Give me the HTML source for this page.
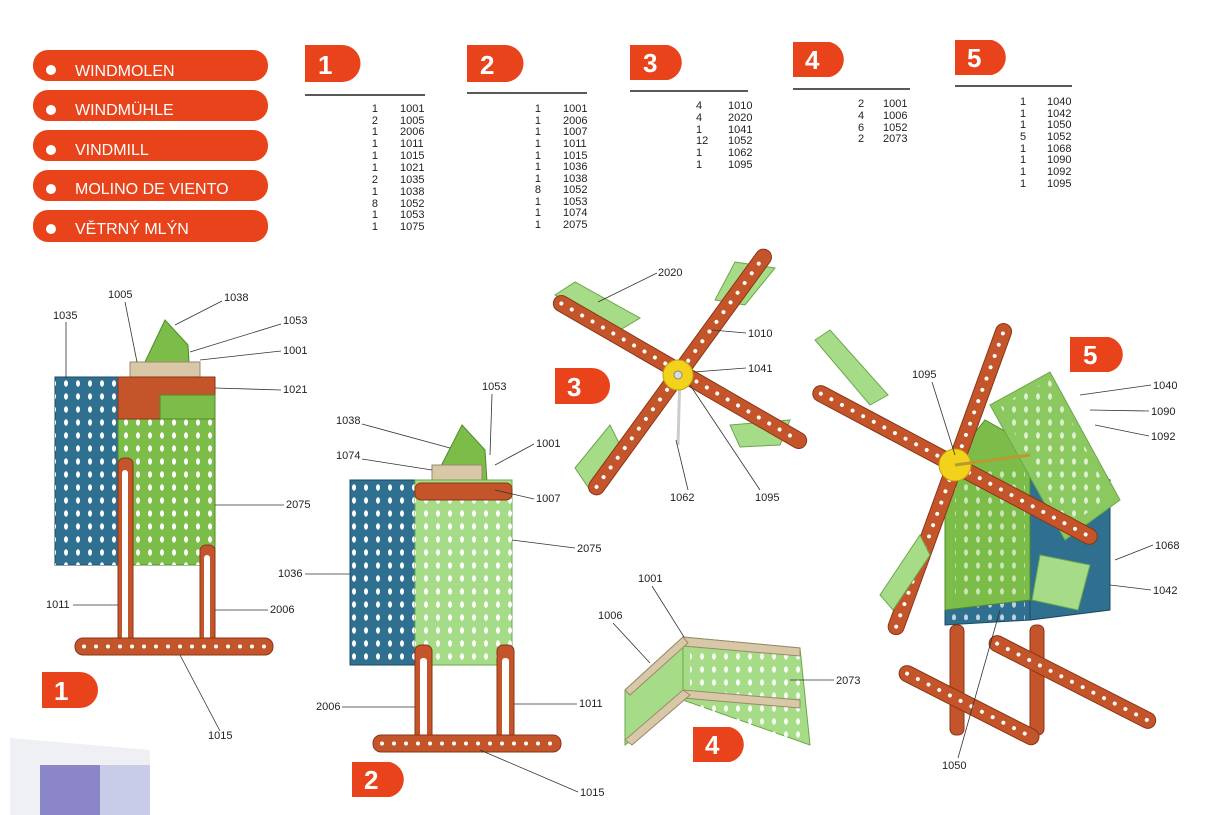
<!DOCTYPE html>
<html><head><meta charset="utf-8"><style>
html,body{margin:0;padding:0;background:#fff}
svg{display:block}
text{font-family:"Liberation Sans",sans-serif}
.pl{font-size:11px;fill:#222}
.lb{font-size:11px;fill:#222}
.ld{stroke:#333;stroke-width:0.8;fill:none}
.pill{fill:#e8431b}
.pt{font-size:16px;fill:#fff;font-weight:normal}
.bn{font-size:26px;fill:#fff;font-weight:bold}
.or{fill:#c4552a;stroke:#8a3518;stroke-width:1}
.gr{fill:#7cbd4a;stroke:#4f8a2a;stroke-width:1}
.lg{fill:#a6dc88;stroke:#6aa74a;stroke-width:1}
.bl{fill:#2f6f8f;stroke:#1c4a60;stroke-width:1}
.dots{stroke:#fff;stroke-width:4;stroke-linecap:round;stroke-dasharray:0 12;fill:none}
</style></head><body>
<svg width="1212" height="815" viewBox="0 0 1212 815" xmlns="http://www.w3.org/2000/svg">
<defs>
<pattern id="holes" width="12" height="13" patternUnits="userSpaceOnUse"><ellipse cx="6" cy="6.5" rx="2" ry="3.2" fill="#fff"/></pattern>
<pattern id="bh" width="12" height="12" patternUnits="userSpaceOnUse"><circle cx="6" cy="6" r="2" fill="#fff"/></pattern>
</defs>
<g>
<rect class="pill" x="33" y="50" width="235" height="31" rx="15"/>
<rect class="pill" x="33" y="90" width="235" height="31" rx="15"/>
<rect class="pill" x="33" y="130" width="235" height="31" rx="15"/>
<rect class="pill" x="33" y="170" width="235" height="31" rx="15"/>
<rect class="pill" x="33" y="210" width="235" height="32" rx="15"/>
<circle cx="51" cy="70" r="5" fill="#fff"/><circle cx="51" cy="110" r="5" fill="#fff"/><circle cx="51" cy="150" r="5" fill="#fff"/><circle cx="51" cy="189" r="5" fill="#fff"/><circle cx="51" cy="229" r="5" fill="#fff"/>
<text class="pt" x="75" y="76">WINDMOLEN</text>
<text class="pt" x="75" y="115">WINDMÜHLE</text>
<text class="pt" x="75" y="155">VINDMILL</text>
<text class="pt" x="75" y="194">MOLINO DE VIENTO</text>
<text class="pt" x="75" y="234">VĚTRNÝ MLÝN</text>
</g>
<g>
<path class="pill" d="M305 45 H342 A18 18 0 0 1 342 82 H305 Z"/><text class="bn" x="318" y="74">1</text>
<path class="pill" d="M467 45 H505 A18 18 0 0 1 505 82 H467 Z"/><text class="bn" x="480" y="74">2</text>
<path class="pill" d="M630 45 H668 A18 18 0 0 1 668 80 H630 Z"/><text class="bn" x="643" y="72">3</text>
<path class="pill" d="M793 42 H830 A18 18 0 0 1 830 77 H793 Z"/><text class="bn" x="805" y="69">4</text>
<path class="pill" d="M955 40 H992 A18 18 0 0 1 992 75 H955 Z"/><text class="bn" x="967" y="67">5</text>
<line x1="305" y1="95" x2="425" y2="95" stroke="#222" stroke-width="1.5"/>
<line x1="467" y1="93" x2="587" y2="93" stroke="#222" stroke-width="1.5"/>
<line x1="630" y1="91" x2="748" y2="91" stroke="#222" stroke-width="1.5"/>
<line x1="793" y1="89" x2="910" y2="89" stroke="#222" stroke-width="1.5"/>
<line x1="955" y1="86" x2="1072" y2="86" stroke="#222" stroke-width="1.5"/>
</g>
<g class="pl">
<text x="378" y="112" text-anchor="end">1</text><text x="400" y="112">1001</text>
<text x="378" y="124" text-anchor="end">2</text><text x="400" y="124">1005</text>
<text x="378" y="135" text-anchor="end">1</text><text x="400" y="135">2006</text>
<text x="378" y="147" text-anchor="end">1</text><text x="400" y="147">1011</text>
<text x="378" y="159" text-anchor="end">1</text><text x="400" y="159">1015</text>
<text x="378" y="171" text-anchor="end">1</text><text x="400" y="171">1021</text>
<text x="378" y="183" text-anchor="end">2</text><text x="400" y="183">1035</text>
<text x="378" y="195" text-anchor="end">1</text><text x="400" y="195">1038</text>
<text x="378" y="207" text-anchor="end">8</text><text x="400" y="207">1052</text>
<text x="378" y="218" text-anchor="end">1</text><text x="400" y="218">1053</text>
<text x="378" y="230" text-anchor="end">1</text><text x="400" y="230">1075</text>

<text x="541" y="112" text-anchor="end">1</text><text x="563" y="112">1001</text>
<text x="541" y="124" text-anchor="end">1</text><text x="563" y="124">2006</text>
<text x="541" y="135" text-anchor="end">1</text><text x="563" y="135">1007</text>
<text x="541" y="147" text-anchor="end">1</text><text x="563" y="147">1011</text>
<text x="541" y="159" text-anchor="end">1</text><text x="563" y="159">1015</text>
<text x="541" y="170" text-anchor="end">1</text><text x="563" y="170">1036</text>
<text x="541" y="182" text-anchor="end">1</text><text x="563" y="182">1038</text>
<text x="541" y="193" text-anchor="end">8</text><text x="563" y="193">1052</text>
<text x="541" y="205" text-anchor="end">1</text><text x="563" y="205">1053</text>
<text x="541" y="216" text-anchor="end">1</text><text x="563" y="216">1074</text>
<text x="541" y="228" text-anchor="end">1</text><text x="563" y="228">2075</text>

<text x="696" y="109">4</text><text x="728" y="109">1010</text>
<text x="696" y="121">4</text><text x="728" y="121">2020</text>
<text x="696" y="133">1</text><text x="728" y="133">1041</text>
<text x="696" y="144">12</text><text x="728" y="144">1052</text>
<text x="696" y="156">1</text><text x="728" y="156">1062</text>
<text x="696" y="168">1</text><text x="728" y="168">1095</text>

<text x="858" y="107">2</text><text x="883" y="107">1001</text>
<text x="858" y="119">4</text><text x="883" y="119">1006</text>
<text x="858" y="131">6</text><text x="883" y="131">1052</text>
<text x="858" y="142">2</text><text x="883" y="142">2073</text>

<text x="1020" y="105">1</text><text x="1047" y="105">1040</text>
<text x="1020" y="117">1</text><text x="1047" y="117">1042</text>
<text x="1020" y="128">1</text><text x="1047" y="128">1050</text>
<text x="1020" y="140">5</text><text x="1047" y="140">1052</text>
<text x="1020" y="152">1</text><text x="1047" y="152">1068</text>
<text x="1020" y="163">1</text><text x="1047" y="163">1090</text>
<text x="1020" y="175">1</text><text x="1047" y="175">1092</text>
<text x="1020" y="187">1</text><text x="1047" y="187">1095</text>
</g>

<!-- MODEL 1 -->
<g>
<path class="gr" d="M145 362 L165 320 L188 345 L190 378 L145 378 Z"/>
<rect x="130" y="362" width="70" height="15" fill="#d8c8a8" stroke="#9a8a6a"/>
<rect class="bl" x="55" y="377" width="65" height="188"/>
<rect x="55" y="377" width="65" height="188" fill="url(#holes)"/>
<rect class="gr" x="118" y="377" width="97" height="188"/>
<rect x="118" y="377" width="97" height="188" fill="url(#holes)"/>
<rect class="or" x="118" y="377" width="97" height="42"/>
<rect class="gr" x="160" y="395" width="55" height="24"/>
<rect class="or" x="118" y="458" width="15" height="190" rx="6"/>
<rect x="122" y="470" width="6" height="170" fill="#fff" rx="3"/>
<rect class="or" x="200" y="545" width="15" height="103" rx="6"/>
<rect x="204" y="555" width="6" height="85" fill="#fff" rx="3"/>
<rect class="or" x="75" y="638" width="198" height="17" rx="8"/>
<line class="dots" x1="84" y1="646.5" x2="266" y2="646.5"/>
</g>
<g class="lb">
<text x="53" y="319">1035</text><text x="108" y="298">1005</text><text x="224" y="301">1038</text>
<text x="283" y="324">1053</text><text x="283" y="354">1001</text><text x="283" y="393">1021</text>
<text x="286" y="508">2075</text><text x="270" y="613">2006</text><text x="46" y="608">1011</text><text x="208" y="739">1015</text>
</g>
<g class="ld">
<path d="M66 322 V378"/><path d="M125 302 L137 362"/><path d="M222 301 L175 325"/><path d="M281 324 L190 352"/>
<path d="M281 351 L200 360"/><path d="M281 390 L215 388"/><path d="M284 505 L215 505"/><path d="M268 610 L215 610"/>
<path d="M73 605 L118 605"/><path d="M220 731 L180 655"/>
</g>
<path class="pill" d="M42 672 H80 A18 18 0 0 1 80 708 H42 Z"/><text class="bn" x="54" y="700">1</text>

<!-- MODEL 2 -->
<g>
<path class="gr" d="M440 468 L462 425 L485 450 L487 482 L440 482 Z"/>
<rect x="432" y="465" width="50" height="16" fill="#d8c8a8" stroke="#9a8a6a"/>
<rect class="bl" x="350" y="480" width="70" height="185"/>
<rect x="350" y="480" width="70" height="185" fill="url(#holes)"/>
<rect class="lg" x="415" y="480" width="97" height="185"/>
<rect x="415" y="480" width="97" height="185" fill="url(#holes)"/>
<rect class="or" x="415" y="483" width="97" height="17" rx="6"/>
<rect class="or" x="415" y="645" width="17" height="100" rx="6"/>
<rect x="420" y="658" width="7" height="80" fill="#fff" rx="3"/>
<rect class="or" x="497" y="645" width="17" height="100" rx="6"/>
<rect x="502" y="658" width="7" height="80" fill="#fff" rx="3"/>
<rect class="or" x="373" y="735" width="188" height="17" rx="8"/>
<line class="dots" x1="382" y1="743.5" x2="554" y2="743.5"/>
</g>
<g class="lb">
<text x="482" y="390">1053</text><text x="336" y="424">1038</text><text x="536" y="447">1001</text>
<text x="336" y="459">1074</text><text x="536" y="502">1007</text><text x="577" y="552">2075</text>
<text x="278" y="577">1036</text><text x="579" y="707">1011</text><text x="316" y="710">2006</text><text x="580" y="796">1015</text>
</g>
<g class="ld">
<path d="M492 394 L490 455"/><path d="M362 424 L450 448"/><path d="M534 444 L495 465"/><path d="M362 459 L432 470"/>
<path d="M534 499 L495 490"/><path d="M575 548 L512 540"/><path d="M305 574 L350 574"/><path d="M577 704 L514 704"/>
<path d="M342 707 L415 707"/><path d="M578 792 L480 750"/>
</g>
<path class="pill" d="M352 762 H390 A18 18 0 0 1 390 797 H352 Z"/><text class="bn" x="364" y="789">2</text>

<!-- MODEL 3 -->
<g>
<line x1="680" y1="372" x2="678" y2="445" stroke="#ccc" stroke-width="3"/>
<polygon class="lg" points="555,295 575,282 640,318 620,330"/>
<polygon class="lg" points="735,262 775,268 745,305 715,300"/>
<polygon class="lg" points="730,425 790,420 780,445 740,447"/>
<polygon class="lg" points="575,468 610,425 620,445 590,490"/>
<g transform="translate(680,372) rotate(-54)"><rect class="or" x="-150" y="-8" width="300" height="16" rx="8"/><line class="dots" x1="-142" y1="0" x2="142" y2="0"/></g>
<g transform="translate(680,372) rotate(30)"><rect class="or" x="-145" y="-8" width="290" height="16" rx="8"/><line class="dots" x1="-137" y1="0" x2="137" y2="0"/></g>
<circle cx="678" cy="375" r="15" fill="#f2d21a" stroke="#c2a010"/>
<circle cx="678" cy="375" r="4" fill="#ddd" stroke="#888"/>
</g>
<g class="lb">
<text x="658" y="276">2020</text><text x="748" y="337">1010</text><text x="748" y="372">1041</text>
<text x="670" y="501">1062</text><text x="755" y="501">1095</text>
</g>
<g class="ld">
<path d="M657 273 L598 302"/><path d="M746 333 L712 330"/><path d="M746 368 L694 372"/>
<path d="M688 490 L676 440"/><path d="M760 490 L690 385"/>
</g>
<path class="pill" d="M555 368 H592 A18 18 0 0 1 592 404 H555 Z"/><text class="bn" x="567" y="396">3</text>

<!-- MODEL 4 -->
<g>
<polygon class="lg" points="625,690 683,637 683,700 625,745"/>
<polygon class="lg" points="683,637 800,648 810,745 683,700"/>
<rect x="690" y="650" width="110" height="90" fill="url(#holes)" opacity="0.9"/>
<polygon points="683,637 800,648 800,656 683,646" fill="#d8c8a8" stroke="#9a8a6a"/>
<polygon points="683,690 800,700 800,708 683,698" fill="#d8c8a8" stroke="#9a8a6a"/>
<polygon points="625,740 683,690 690,695 632,745" fill="#d8c8a8" stroke="#9a8a6a"/>
<polygon points="625,690 683,637 688,643 630,695" fill="#d8c8a8" stroke="#9a8a6a"/>
</g>
<g class="lb"><text x="638" y="582">1001</text><text x="598" y="619">1006</text><text x="836" y="684">2073</text></g>
<g class="ld"><path d="M652 586 L684 637"/><path d="M613 623 L650 663"/><path d="M834 680 L790 680"/></g>
<path class="pill" d="M693 727 H730 A18 18 0 0 1 730 762 H693 Z"/><text class="bn" x="705" y="754">4</text>

<!-- MODEL 5 -->
<g>
<polygon class="bl" points="945,470 1030,445 1030,620 945,625"/>
<rect x="950" y="470" width="75" height="150" fill="url(#holes)" opacity="0.7"/>
<polygon class="bl" points="1030,445 1110,480 1110,610 1030,620"/>
<polygon class="gr" points="945,470 985,420 1030,445 1030,600 945,610"/>
<rect x="955" y="470" width="70" height="130" fill="url(#holes)" opacity="0.6"/>
<polygon class="lg" points="990,405 1050,372 1120,500 1065,540" style="fill:#8cc860"/>
<polygon points="1000,405 1050,380 1110,495 1065,530" fill="url(#holes)" opacity="0.7"/>
<g transform="translate(955,465) rotate(-70)"><rect class="or" x="-180" y="-8" width="330" height="16" rx="8"/><line class="dots" x1="-172" y1="0" x2="142" y2="0"/></g>
<g transform="translate(955,465) rotate(28)"><rect class="or" x="-160" y="-8" width="320" height="16" rx="8"/><line class="dots" x1="-152" y1="0" x2="152" y2="0"/></g>
<polygon class="lg" points="815,340 830,330 888,395 870,405"/>
<polygon class="lg" points="880,595 920,535 930,555 893,610"/>
<polygon class="lg" points="1040,555 1090,565 1078,610 1032,600"/>
<circle cx="955" cy="465" r="16" fill="#f2d21a" stroke="#c2a010"/>
<line x1="955" y1="465" x2="1030" y2="455" stroke="#b89a30" stroke-width="3"/>
<rect class="or" x="950" y="625" width="14" height="110" rx="6"/>
<rect class="or" x="1030" y="625" width="14" height="110" rx="6"/>
<g transform="translate(900,670) rotate(27)"><rect class="or" x="0" y="-8" width="155" height="16" rx="8"/><line class="dots" x1="8" y1="0" x2="148" y2="0"/></g>
<g transform="translate(990,640) rotate(27)"><rect class="or" x="0" y="-8" width="185" height="16" rx="8"/><line class="dots" x1="8" y1="0" x2="178" y2="0"/></g>
</g>
<g class="lb">
<text x="912" y="378">1095</text><text x="1153" y="389">1040</text><text x="1151" y="415">1090</text>
<text x="1151" y="440">1092</text><text x="1155" y="549">1068</text><text x="1153" y="594">1042</text><text x="942" y="769">1050</text>
</g>
<g class="ld">
<path d="M932 382 L955 455"/><path d="M1151 385 L1080 395"/><path d="M1149 411 L1090 410"/><path d="M1149 436 L1095 425"/>
<path d="M1153 545 L1115 560"/><path d="M1151 590 L1110 585"/><path d="M958 758 L1000 610"/>
</g>
<path class="pill" d="M1070 337 H1109 A18 18 0 0 1 1109 372 H1070 Z"/><text class="bn" x="1083" y="364">5</text>

<polygon points="10,738 150,750 150,815 10,815" fill="#eef0f3"/>
<rect x="40" y="765" width="110" height="50" fill="#8a86c8"/>
<rect x="100" y="765" width="50" height="50" fill="#c8cce8"/>
</svg>
</body></html>
